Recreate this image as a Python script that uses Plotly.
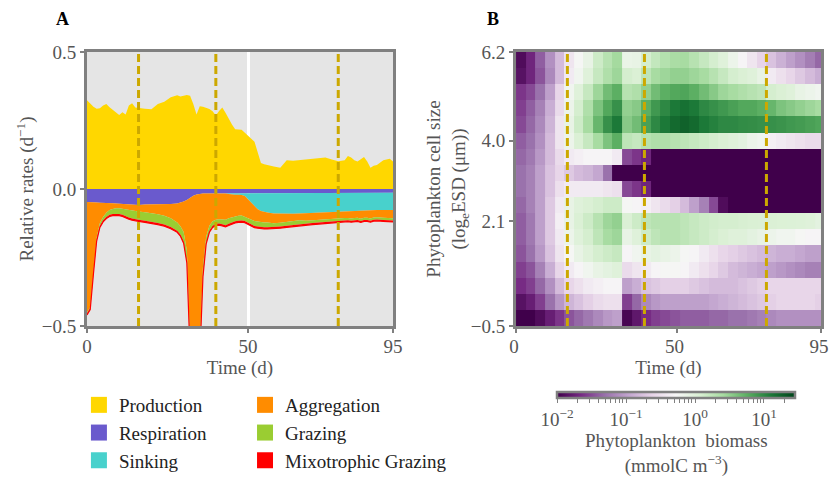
import numpy as np
import plotly.graph_objects as go

# ---------------- Panel A data (rates, d^-1) ----------------
days = [0, 1, 2, 3, 4, 5, 6, 7, 8, 9, 10, 11, 12, 13, 14, 15, 16,
        18, 20, 22, 24, 26, 28,
        29, 30, 31, 32, 33, 34, 35, 36, 37, 38, 39, 40, 41, 42, 43, 44, 45, 46, 47, 48, 49, 50, 51, 52, 53, 54, 55, 56,
        58, 60, 62, 64, 66, 68, 70, 72, 74, 76, 78, 80,
        81, 82, 83, 84, 85, 86, 87, 88, 89, 90,
        92, 94, 95]

production = [0.324, 0.313, 0.300, 0.293, 0.295, 0.305, 0.310, 0.298, 0.288, 0.278, 0.270, 0.280, 0.272, 0.305, 0.313, 0.297, 0.295,
              0.293, 0.291, 0.310, 0.318, 0.335, 0.342,
              0.338, 0.340, 0.343, 0.340, 0.310, 0.272, 0.302, 0.300, 0.296, 0.292, 0.284, 0.268, 0.285, 0.297, 0.278, 0.256,
              0.235, 0.218, 0.217, 0.216, 0.205, 0.192, 0.183, 0.172, 0.130, 0.095, 0.090, 0.087,
              0.082, 0.078, 0.105, 0.103, 0.105, 0.108, 0.110, 0.113, 0.115, 0.108, 0.101, 0.105,
              0.120, 0.115, 0.105, 0.100, 0.110, 0.117, 0.100, 0.078, 0.085, 0.088,
              0.105, 0.110, 0.100]

# loss terms (magnitudes, drawn below zero)
respiration = [0.047, 0.047, 0.048, 0.049, 0.050, 0.050, 0.050, 0.051, 0.052, 0.053, 0.054, 0.055, 0.056, 0.057, 0.057, 0.058, 0.058,
               0.057, 0.057, 0.056, 0.056, 0.055, 0.053,
               0.050, 0.046, 0.040, 0.032, 0.025, 0.020, 0.017, 0.016, 0.016, 0.016, 0.016, 0.016, 0.015, 0.015, 0.014, 0.014,
               0.014, 0.014, 0.014, 0.014, 0.014, 0.014, 0.014, 0.014, 0.014, 0.014, 0.014, 0.014,
               0.014, 0.014, 0.014, 0.014, 0.014, 0.014, 0.014, 0.014, 0.014, 0.014, 0.014, 0.014,
               0.014, 0.014, 0.014, 0.014, 0.014, 0.014, 0.014, 0.014, 0.014, 0.014,
               0.014, 0.014, 0.014]

sinking = [0, 0, 0, 0, 0, 0, 0, 0, 0, 0, 0, 0, 0, 0, 0, 0, 0,
           0, 0, 0, 0, 0, 0,
           0, 0, 0, 0, 0, 0, 0, 0, 0, 0, 0, 0, 0, 0, 0.002, 0.004,
           0.006, 0.007, 0.007, 0.008, 0.012, 0.024, 0.038, 0.050, 0.060, 0.066, 0.070, 0.072,
           0.075, 0.076, 0.076, 0.076, 0.075, 0.074, 0.072, 0.071, 0.069, 0.068, 0.067, 0.066,
           0.065, 0.065, 0.064, 0.064, 0.064, 0.063, 0.063, 0.063, 0.063, 0.063,
           0.063, 0.063, 0.063]

aggregation = [0.404, 0.384, 0.253, 0.129, 0.074, 0.052, 0.037, 0.026, 0.021, 0.017, 0.016, 0.017, 0.019, 0.020, 0.023, 0.024, 0.024,
               0.028, 0.031, 0.036, 0.042, 0.052, 0.069,
               0.086, 0.111, 0.184, 0.522, 0.729, 0.734, 0.557, 0.268, 0.158, 0.118, 0.102, 0.096, 0.095, 0.096, 0.096, 0.089,
               0.084, 0.079, 0.077, 0.075, 0.076, 0.069, 0.061, 0.053, 0.045, 0.041, 0.038, 0.036,
               0.036, 0.033, 0.030, 0.027, 0.025, 0.028, 0.028, 0.027, 0.027, 0.027, 0.026, 0.026,
               0.027, 0.029, 0.028, 0.027, 0.031, 0.028, 0.028, 0.031, 0.027, 0.026,
               0.028, 0.029, 0.030]

grazing = [0.003, 0.003, 0.003, 0.006, 0.010, 0.012, 0.015, 0.017, 0.018, 0.020, 0.021, 0.022, 0.025, 0.027, 0.028, 0.029, 0.030,
           0.031, 0.031, 0.032, 0.032, 0.032, 0.030,
           0.030, 0.035, 0.040, 0.040, 0.040, 0.040, 0.040, 0.030, 0.020, 0.018, 0.016, 0.015, 0.016, 0.018, 0.020, 0.020,
           0.018, 0.018, 0.018, 0.018, 0.015, 0.017, 0.018, 0.018, 0.018, 0.018, 0.018, 0.018,
           0.014, 0.014, 0.014, 0.014, 0.014, 0.010, 0.010, 0.010, 0.010, 0.010, 0.010, 0.010,
           0.008, 0.008, 0.008, 0.008, 0.008, 0.008, 0.008, 0.008, 0.008, 0.008,
           0.008, 0.008, 0.008]

mixotrophic_grazing = [0.006, 0.006, 0.006, 0.006, 0.006, 0.006, 0.006, 0.006, 0.006, 0.006, 0.006, 0.006, 0.006, 0.006, 0.006, 0.006, 0.006,
                       0.006, 0.006, 0.006, 0.006, 0.006, 0.006,
                       0.006, 0.006, 0.006, 0.006, 0.006, 0.006, 0.006, 0.006, 0.006, 0.006, 0.006, 0.006, 0.006, 0.006, 0.006, 0.006,
                       0.006, 0.006, 0.006, 0.006, 0.006, 0.006, 0.006, 0.006, 0.006, 0.006, 0.006, 0.006,
                       0.006, 0.006, 0.006, 0.006, 0.006, 0.006, 0.006, 0.006, 0.006, 0.006, 0.006, 0.006,
                       0.005, 0.005, 0.005, 0.005, 0.005, 0.005, 0.005, 0.005, 0.005, 0.005,
                       0.005, 0.005, 0.005]

event_days = [16, 40, 78]

# ---------------- Panel B data (log10 biomass, mmolC m^-3) ----------------
heat_time_edges = [0, 3, 6, 9, 12, 15, 18, 21, 24, 27, 30, 33, 36, 39, 42, 45, 48,
                   51, 54, 57, 60, 63, 66, 69, 72, 75, 78, 81, 84, 87, 90, 93, 95]
size_edges = [-0.5, -0.106, 0.288, 0.682, 1.076, 1.471, 1.865, 2.259, 2.653,
              3.047, 3.441, 3.835, 4.229, 4.624, 5.018, 5.412, 5.806, 6.2]

# rows listed from the largest size class (top) to the smallest (bottom)
biomass_log10_top_to_bottom = [
    [-1.9, -1.7, -1.4, -1.1, -0.8, -0.45, -0.25, -0.1, 0.15, 0.3, 0.42, -0.12, -0.1, 0.1, 0.22, 0.32, 0.38, 0.4, 0.3, 0.2, 0.1, 0.0, -0.15, -0.3, -0.45, -0.62, -0.75, -0.88, -1.0, -1.1, -1.22, -1.35],
    [-1.85, -1.7, -1.45, -1.15, -0.8, -0.4, -0.2, 0.0, 0.2, 0.35, 0.45, 0.1, 0.05, 0.25, 0.4, 0.45, 0.5, 0.5, 0.45, 0.4, 0.3, 0.2, 0.1, 0.05, 0.0, -0.1, -0.4, -0.5, -0.6, -0.7, -0.8, -0.9],
    [-1.6, -1.5, -1.3, -1.0, -0.6, -0.2, 0.0, 0.2, 0.45, 0.65, 0.75, 0.3, 0.35, 0.5, 0.65, 0.75, 0.8, 0.82, 0.75, 0.65, 0.55, 0.45, 0.4, 0.35, 0.3, 0.25, 0.1, 0.05, 0.0, -0.1, -0.15, -0.2],
    [-1.55, -1.4, -1.2, -0.9, -0.55, -0.15, 0.1, 0.35, 0.6, 0.8, 0.95, 0.5, 0.55, 0.75, 0.9, 1.0, 1.1, 1.15, 1.1, 1.0, 0.95, 0.9, 0.85, 0.8, 0.8, 0.75, 0.7, 0.6, 0.55, 0.5, 0.45, 0.4],
    [-1.5, -1.35, -1.15, -0.85, -0.45, -0.1, 0.15, 0.4, 0.7, 0.95, 1.1, 0.55, 0.65, 0.85, 1.0, 1.1, 1.2, 1.25, 1.2, 1.1, 1.05, 1.0, 1.0, 0.98, 0.97, 0.95, 0.95, 0.93, 0.9, 0.88, 0.85, 0.82],
    [-1.4, -1.3, -1.1, -0.8, -0.45, -0.15, 0.05, 0.2, 0.4, 0.6, 0.75, 0.25, 0.2, 0.3, 0.35, 0.35, 0.3, 0.25, 0.2, 0.15, 0.1, 0.05, 0.0, -0.05, -0.15, -0.2, -0.35, -0.4, -0.45, -0.5, -0.55, -0.55],
    [-1.35, -1.25, -1.05, -0.8, -0.55, -0.4, -0.35, -0.3, -0.3, -0.3, -0.4, -1.5, -1.6, -1.7, -2.5, -2.5, -2.5, -2.5, -2.5, -2.5, -2.5, -2.5, -2.5, -2.5, -2.5, -2.5, -2.5, -2.5, -2.5, -2.5, -2.5, -2.5],
    [-1.3, -1.2, -1.0, -0.75, -0.6, -0.7, -0.8, -0.85, -0.95, -1.3, -2.5, -2.5, -2.5, -2.5, -2.5, -2.5, -2.5, -2.5, -2.5, -2.5, -2.5, -2.5, -2.5, -2.5, -2.5, -2.5, -2.5, -2.5, -2.5, -2.5, -2.5, -2.5],
    [-1.3, -1.2, -1.0, -0.75, -0.5, -0.4, -0.4, -0.4, -0.4, -0.45, -0.5, -1.5, -1.6, -1.7, -2.5, -2.5, -2.5, -2.5, -2.5, -2.5, -2.5, -2.5, -2.5, -2.5, -2.5, -2.5, -2.5, -2.5, -2.5, -2.5, -2.5, -2.5],
    [-1.35, -1.2, -1.0, -0.7, -0.4, -0.1, 0.0, 0.05, 0.1, 0.15, 0.15, -0.25, -0.3, -0.35, -0.45, -0.55, -0.65, -0.8, -1.0, -1.2, -1.5, -1.9, -2.5, -2.5, -2.5, -2.5, -2.5, -2.5, -2.5, -2.5, -2.5, -2.5],
    [-1.4, -1.25, -1.0, -0.7, -0.35, -0.1, 0.05, 0.15, 0.3, 0.45, 0.5, 0.05, 0.15, 0.25, 0.3, 0.3, 0.3, 0.25, 0.2, 0.15, 0.12, 0.1, 0.1, 0.08, 0.06, 0.05, 0.05, 0.04, 0.03, 0.02, 0.0, -0.05],
    [-1.4, -1.25, -1.0, -0.7, -0.4, -0.15, 0.0, 0.1, 0.25, 0.4, 0.45, -0.1, 0.0, 0.15, 0.25, 0.3, 0.3, 0.25, 0.2, 0.15, 0.1, 0.05, 0.0, 0.0, -0.05, -0.1, -0.15, -0.2, -0.2, -0.25, -0.3, -0.3],
    [-1.45, -1.3, -1.05, -0.75, -0.45, -0.25, -0.1, 0.0, 0.1, 0.15, 0.2, -0.3, -0.2, -0.1, -0.05, -0.1, -0.15, -0.25, -0.3, -0.4, -0.5, -0.6, -0.65, -0.7, -0.75, -0.8, -0.85, -0.9, -0.9, -0.95, -1.0, -1.0],
    [-1.55, -1.45, -1.2, -0.9, -0.6, -0.4, -0.3, -0.2, -0.1, -0.05, 0.0, -0.55, -0.45, -0.4, -0.3, -0.25, -0.25, -0.3, -0.4, -0.5, -0.6, -0.7, -0.8, -0.85, -0.9, -0.95, -1.0, -1.05, -1.1, -1.15, -1.2, -1.2],
    [-1.65, -1.55, -1.35, -1.1, -0.8, -0.6, -0.5, -0.4, -0.35, -0.3, -0.3, -1.0, -0.9, -0.75, -0.7, -0.65, -0.65, -0.65, -0.7, -0.75, -0.8, -0.8, -0.8, -0.75, -0.7, -0.65, -0.6, -0.6, -0.6, -0.6, -0.6, -0.6],
    [-1.85, -1.75, -1.55, -1.3, -1.05, -0.85, -0.75, -0.65, -0.55, -0.5, -0.5, -1.55, -1.35, -1.15, -1.05, -1.0, -1.0, -1.0, -1.0, -1.0, -0.95, -0.9, -0.85, -0.8, -0.75, -0.7, -0.65, -0.6, -0.6, -0.6, -0.6, -0.65],
    [-2.0, -2.0, -1.9, -1.75, -1.6, -1.45, -1.35, -1.25, -1.15, -1.05, -1.0, -1.95, -1.8, -1.65, -1.55, -1.5, -1.45, -1.4, -1.4, -1.4, -1.35, -1.35, -1.3, -1.3, -1.25, -1.2, -1.15, -1.1, -1.1, -1.1, -1.1, -1.1],
]

size_tick_vals = [-0.5, 2.06, 4.03, 6.2]
size_tick_text = ["\u22120.5", "2.1", "4.0", "6.2"]

# ---------------- styling ----------------
FONT = "Liberation Serif"
GRAY = "#808080"
TXT = "#555555"
GOLD = "#CCA800"

fig = go.Figure()

fig.add_trace(go.Scatter(x=days, y=production, name="Production", stackgroup="pos", mode="lines",
                         line=dict(width=0, color="#FFD700"), fillcolor="#FFD700", showlegend=False))

losses = [
    ("Respiration", respiration, "#6A5ACD"),
    ("Sinking", sinking, "#48D1CC"),
    ("Aggregation", aggregation, "#FF8C00"),
    ("Grazing", grazing, "#9ACD32"),
    ("Mixotrophic Grazing", mixotrophic_grazing, "#FF0000"),
]
for name, vals, col in losses:
    fig.add_trace(go.Scatter(x=days, y=[-v for v in vals], name=name, stackgroup="neg", mode="lines",
                             line=dict(width=1.2 if name == "Mixotrophic Grazing" else 0, color=col),
                             fillcolor=col, showlegend=False))

# legend patches (two columns, like the reference)
legend_columns = {
    "legend": [("Production", "#FFD700"), ("Respiration", "#6A5ACD"), ("Sinking", "#48D1CC")],
    "legend2": [("Aggregation", "#FF8C00"), ("Grazing", "#9ACD32"), ("Mixotrophic Grazing", "#FF0000")],
}
for lg, items in legend_columns.items():
    for name, col in items:
        fig.add_trace(go.Scatter(x=[None], y=[None], mode="markers", name=name, legend=lg,
                                 marker=dict(symbol="square", size=16, color=col), showlegend=True))

minor_vals = []
for d in [-2, -1, 0, 1]:
    for k in range(1, 10):
        v = d + np.log10(k)
        if v <= 1.45:
            minor_vals.append(float(v))
cb_text = []
for v in minor_vals:
    if abs(v - round(v)) < 1e-9:
        e = int(round(v))
        cb_text.append("10<sup>" + ("\u2212" + str(-e) if e < 0 else str(e)) + "</sup>")
    else:
        cb_text.append("")

fig.add_trace(go.Heatmap(
    x=heat_time_edges, y=size_edges, z=biomass_log10_top_to_bottom[::-1],
    xaxis="x2", yaxis="y2", colorscale="PRGn", zmin=-2, zmax=1.45, zsmooth=False,
    colorbar=dict(orientation="h", x=0.8025, xanchor="center", y=-0.241, yanchor="top",
                  len=238, lenmode="pixels", thickness=6, outlinewidth=2.5, outlinecolor=GRAY,
                  ticks="outside", ticklen=4, tickwidth=1, tickcolor=GRAY,
                  tickvals=minor_vals, ticktext=cb_text,
                  tickfont=dict(family=FONT, size=19, color=TXT),
                  xpad=0, ypad=0),
))

for d in event_days:
    for xr, yr in [("x", "y domain"), ("x2", "y2 domain")]:
        fig.add_shape(type="line", x0=d, x1=d, xref=xr, y0=0, y1=1, yref=yr,
                      line=dict(color=GOLD, width=3, dash="8px,4px"))

axis_common = dict(showline=True, mirror=True, linecolor=GRAY, linewidth=3, ticks="outside",
                   ticklen=4, tickwidth=1.5, tickcolor=GRAY, zeroline=False, automargin=False,
                   ticklabeloverflow="allow",
                   tickfont=dict(family=FONT, size=19, color=TXT))

fig.update_layout(
    width=829, height=477,
    margin=dict(l=87, r=8, t=52, b=151, autoexpand=False),
    paper_bgcolor="white", plot_bgcolor="#E5E5E5",
    font=dict(family=FONT, size=19, color=TXT),
    xaxis=dict(domain=[0, 0.4169], range=[0, 95], tickvals=[0, 50, 95], showgrid=True,
               gridcolor="white", gridwidth=2.5, ticklabelstandoff=-3,
               title=dict(text="Time (d)", standoff=3, font=dict(family=FONT, size=19, color=TXT)),
               **axis_common),
    yaxis=dict(domain=[0, 1], range=[-0.5, 0.5], tickvals=[-0.5, 0, 0.5], tickformat=".1f",
               showgrid=False,
               title=dict(text="Relative rates (d<sup>\u22121</sup>)", standoff=4,
                          font=dict(family=FONT, size=19, color=TXT)),
               **axis_common),
    xaxis2=dict(domain=[0.5845, 1], anchor="y2", range=[0, 95], tickvals=[0, 50, 95], showgrid=False,
                ticklabelstandoff=-3, ticklabelshift=-2,
                title=dict(text="Time (d)", standoff=3, font=dict(family=FONT, size=19, color=TXT)),
                **axis_common),
    yaxis2=dict(domain=[0, 1], anchor="x2", range=[-0.5, 6.2], tickvals=size_tick_vals,
                ticktext=size_tick_text, showgrid=False,
                title=dict(text="Phytoplankton cell size<br>(log<sub>e</sub>ESD (\u03bcm))", standoff=1,
                           font=dict(family=FONT, size=19, color=TXT)),
                **axis_common),
    legend=dict(x=-0.011, y=-0.219, xanchor="left", yanchor="top", itemwidth=30, traceorder="normal",
                font=dict(family=FONT, size=19, color="#222222"), bgcolor="rgba(0,0,0,0)"),
    legend2=dict(x=0.2153, y=-0.219, xanchor="left", yanchor="top", itemwidth=30, traceorder="normal",
                 font=dict(family=FONT, size=19, color="#222222"), bgcolor="rgba(0,0,0,0)"),
    annotations=[
        dict(text="<b>A</b>", x=-0.033, y=1.122, xref="paper", yref="paper", showarrow=False,
             xanchor="center", yanchor="middle", font=dict(family=FONT, size=18, color="black")),
        dict(text="<b>B</b>", x=0.553, y=1.122, xref="paper", yref="paper", showarrow=False,
             xanchor="center", yanchor="middle", font=dict(family=FONT, size=18, color="black")),
        dict(text="Phytoplankton  biomass<br>(mmolC m<sup>\u22123</sup>)", x=0.8025, y=-0.465,
             xref="paper", yref="paper", showarrow=False, xanchor="center", yanchor="middle",
             font=dict(family=FONT, size=19, color=TXT)),
    ],
)

fig.write_html("out.html")
